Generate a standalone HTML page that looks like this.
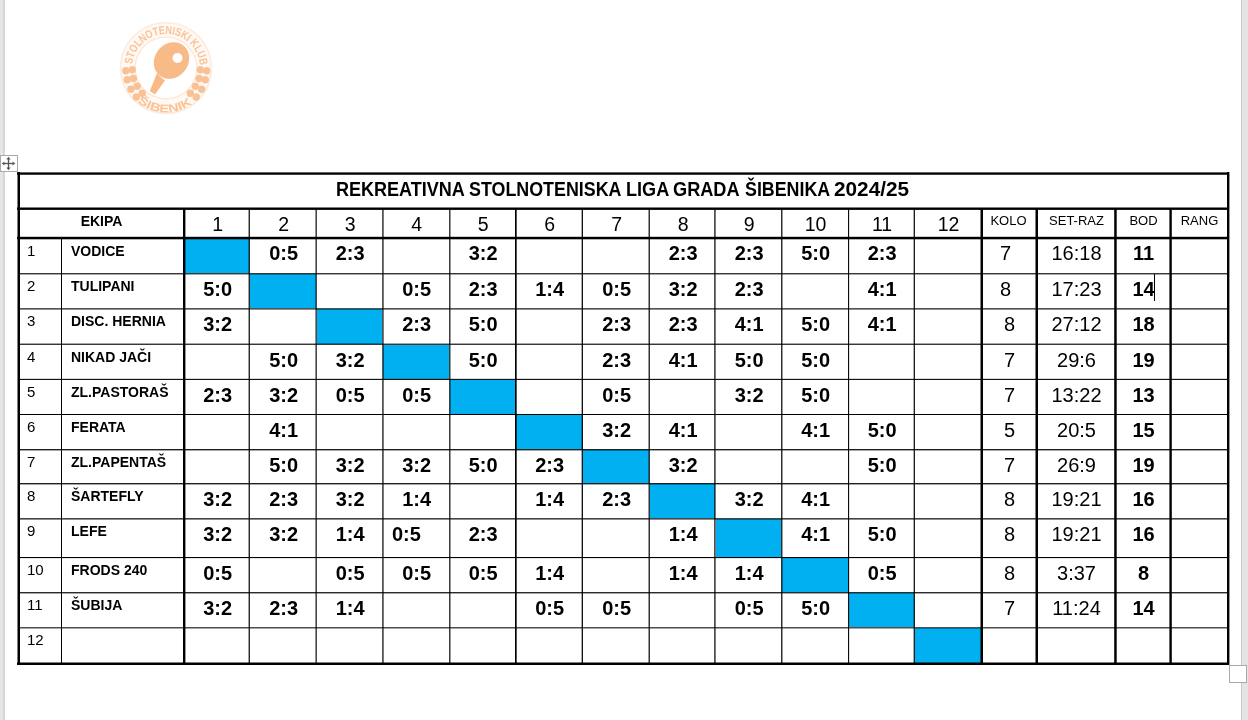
<!DOCTYPE html>
<html><head><meta charset="utf-8"><style>
html,body{margin:0;padding:0;}
body{width:1248px;height:720px;position:relative;overflow:hidden;background:#fff;font-family:"Liberation Sans",sans-serif;color:#000;}
#pg{position:absolute;left:0;top:0;width:1248px;height:720px;will-change:transform;}
#pg div,#pg span{position:absolute;}
#pg span{line-height:1;white-space:pre;}
</style></head><body><div id="pg">
<div style="left:0;top:0;width:3px;height:720px;background:#e6e6e6"></div>
<div style="left:3px;top:0;width:2px;height:720px;background:#d6d6d6"></div>
<div style="left:1241px;top:0;width:1px;height:720px;background:#c8c8c8"></div>
<div style="left:1242px;top:0;width:6px;height:720px;background:#e4e4e4"></div>
<svg style="position:absolute;left:0;top:0" width="300" height="140" viewBox="0 0 300 140">
<defs>
<path id="arcT" d="M136.56,85.00 A34,34 0 1,1 195.44,85.00"/>
<path id="arcB" d="M124.18,83.22 A44.5,44.5 0 0,0 207.82,83.22"/>
</defs>
<circle cx="166" cy="68" r="46.5" fill="#fff8f3"/>
<circle cx="166" cy="68" r="45.2" fill="none" stroke="#fdeadc" stroke-width="1.3"/>
<circle cx="166" cy="68" r="30.8" fill="#fff" stroke="#fde7d6" stroke-width="1.2"/>
<text font-family="Liberation Sans" font-size="11.5" font-weight="bold" fill="#f8c396"><textPath href="#arcT" startOffset="21.36" textLength="100.29" lengthAdjust="spacingAndGlyphs">STOLNOTENISKI KLUB</textPath></text>
<text font-family="Liberation Sans" font-size="11.5" font-weight="bold" fill="#f8c396"><textPath href="#arcB" startOffset="23.30" textLength="59.03" lengthAdjust="spacingAndGlyphs">ŠIBENIK</textPath></text>
<circle cx="125.8" cy="70.8" r="3.7" fill="#f9c196"/>
<circle cx="206.7" cy="70.8" r="3.7" fill="#f9c196"/>
<circle cx="132.2" cy="69.8" r="3.7" fill="#f9c196"/>
<circle cx="200.3" cy="69.8" r="3.7" fill="#f9c196"/>
<circle cx="127.2" cy="79.8" r="3.7" fill="#f9c196"/>
<circle cx="205.3" cy="79.8" r="3.7" fill="#f9c196"/>
<circle cx="133.4" cy="78.5" r="3.7" fill="#f9c196"/>
<circle cx="199.1" cy="78.5" r="3.7" fill="#f9c196"/>
<circle cx="130.9" cy="89.2" r="3.7" fill="#f9c196"/>
<circle cx="201.6" cy="89.2" r="3.7" fill="#f9c196"/>
<circle cx="137.2" cy="86.2" r="3.7" fill="#f9c196"/>
<circle cx="195.3" cy="86.2" r="3.7" fill="#f9c196"/>
<circle cx="136.3" cy="97" r="3.7" fill="#f9c196"/>
<circle cx="196.2" cy="97" r="3.7" fill="#f9c196"/>
<circle cx="142.2" cy="93.2" r="3.7" fill="#f9c196"/>
<circle cx="190.3" cy="93.2" r="3.7" fill="#f9c196"/>
<path d="M157,73 Q160,77 165,80.5 L155,94.6 L149.8,91 Z" fill="#f8bb88"/>
<ellipse cx="171.5" cy="60.5" rx="16.8" ry="19.2" transform="rotate(37 171.5 60.5)" fill="#f8bb88"/>
<circle cx="177.5" cy="58" r="5" fill="#fff"/>
</svg>
<div style="left:0;top:155px;width:16px;height:15px;border:1px solid #a8a8a8;background:#fff"></div>
<svg style="position:absolute;left:0;top:155px" width="17" height="17" viewBox="0 0 17 17">
<g stroke="#555" stroke-width="1.3" fill="#555">
<line x1="3" y1="8.5" x2="14" y2="8.5"/><line x1="8.5" y1="3" x2="8.5" y2="14"/>
</g>
<g fill="#555"><path d="M8.5 1.8 L10.6 4.4 L6.4 4.4Z"/><path d="M8.5 15.2 L10.6 12.6 L6.4 12.6Z"/><path d="M1.8 8.5 L4.4 6.4 L4.4 10.6Z"/><path d="M15.2 8.5 L12.6 6.4 L12.6 10.6Z"/></g>
</svg>
<div style="left:1229px;top:665px;width:16px;height:16px;border:1px solid #a8a8a8;background:#fff"></div>
<div style="left:185px;top:239px;width:64px;height:34px;background:#00B0F0;"></div>
<div style="left:250px;top:274px;width:66px;height:34px;background:#00B0F0;"></div>
<div style="left:317px;top:309px;width:65px;height:35px;background:#00B0F0;"></div>
<div style="left:383px;top:345px;width:66px;height:34px;background:#00B0F0;"></div>
<div style="left:450px;top:380px;width:65px;height:34px;background:#00B0F0;"></div>
<div style="left:516px;top:415px;width:66px;height:34px;background:#00B0F0;"></div>
<div style="left:583px;top:450px;width:66px;height:33px;background:#00B0F0;"></div>
<div style="left:650px;top:484px;width:65px;height:34px;background:#00B0F0;"></div>
<div style="left:716px;top:519px;width:65px;height:38px;background:#00B0F0;"></div>
<div style="left:782px;top:558px;width:66px;height:34px;background:#00B0F0;"></div>
<div style="left:849px;top:593px;width:65px;height:34px;background:#00B0F0;"></div>
<div style="left:915px;top:628px;width:66px;height:35px;background:#00B0F0;"></div>
<div style="left:18px;top:273px;width:1211px;height:1px;background:rgba(0,0,0,0.78);"></div>
<div style="left:18px;top:274px;width:1211px;height:1px;background:rgba(0,0,0,0.35);"></div>
<div style="left:18px;top:308px;width:1211px;height:1px;background:rgba(0,0,0,0.67);"></div>
<div style="left:18px;top:309px;width:1211px;height:1px;background:rgba(0,0,0,0.45);"></div>
<div style="left:18px;top:343px;width:1211px;height:1px;background:rgba(0,0,0,0.35);"></div>
<div style="left:18px;top:344px;width:1211px;height:1px;background:rgba(0,0,0,0.78);"></div>
<div style="left:18px;top:378px;width:1211px;height:1px;background:rgba(0,0,0,0.15);"></div>
<div style="left:18px;top:379px;width:1211px;height:1px;background:rgba(0,0,0,0.93);"></div>
<div style="left:18px;top:414px;width:1211px;height:1px;background:#000;"></div>
<div style="left:18px;top:449px;width:1211px;height:1px;background:rgba(0,0,0,0.87);"></div>
<div style="left:18px;top:450px;width:1211px;height:1px;background:rgba(0,0,0,0.35);"></div>
<div style="left:18px;top:483px;width:1211px;height:1px;background:rgba(0,0,0,0.87);"></div>
<div style="left:18px;top:484px;width:1211px;height:1px;background:rgba(0,0,0,0.35);"></div>
<div style="left:18px;top:518px;width:1211px;height:1px;background:rgba(0,0,0,0.73);"></div>
<div style="left:18px;top:519px;width:1211px;height:1px;background:rgba(0,0,0,0.45);"></div>
<div style="left:18px;top:557px;width:1211px;height:1px;background:#000;"></div>
<div style="left:18px;top:558px;width:1211px;height:1px;background:rgba(0,0,0,0.10);"></div>
<div style="left:18px;top:592px;width:1211px;height:1px;background:rgba(0,0,0,0.83);"></div>
<div style="left:18px;top:593px;width:1211px;height:1px;background:rgba(0,0,0,0.35);"></div>
<div style="left:18px;top:627px;width:1211px;height:1px;background:rgba(0,0,0,0.69);"></div>
<div style="left:18px;top:628px;width:1211px;height:1px;background:rgba(0,0,0,0.35);"></div>
<div style="left:248px;top:208px;width:1px;height:455px;background:rgba(0,0,0,0.37);"></div>
<div style="left:249px;top:208px;width:1px;height:455px;background:rgba(0,0,0,0.84);"></div>
<div style="left:315px;top:208px;width:1px;height:455px;background:rgba(0,0,0,0.44);"></div>
<div style="left:316px;top:208px;width:1px;height:455px;background:rgba(0,0,0,0.71);"></div>
<div style="left:382px;top:208px;width:1px;height:455px;background:rgba(0,0,0,0.67);"></div>
<div style="left:383px;top:208px;width:1px;height:455px;background:rgba(0,0,0,0.53);"></div>
<div style="left:449px;top:208px;width:1px;height:455px;background:rgba(0,0,0,0.77);"></div>
<div style="left:450px;top:208px;width:1px;height:455px;background:rgba(0,0,0,0.40);"></div>
<div style="left:515px;top:208px;width:1px;height:455px;background:#000;"></div>
<div style="left:516px;top:208px;width:1px;height:455px;background:rgba(0,0,0,0.67);"></div>
<div style="left:581px;top:208px;width:1px;height:455px;background:rgba(0,0,0,0.33);"></div>
<div style="left:582px;top:208px;width:1px;height:455px;background:rgba(0,0,0,0.93);"></div>
<div style="left:648px;top:208px;width:1px;height:455px;background:rgba(0,0,0,0.40);"></div>
<div style="left:649px;top:208px;width:1px;height:455px;background:rgba(0,0,0,0.80);"></div>
<div style="left:714px;top:208px;width:1px;height:455px;background:rgba(0,0,0,0.69);"></div>
<div style="left:715px;top:208px;width:1px;height:455px;background:rgba(0,0,0,0.53);"></div>
<div style="left:781px;top:208px;width:1px;height:455px;background:rgba(0,0,0,0.82);"></div>
<div style="left:782px;top:208px;width:1px;height:455px;background:rgba(0,0,0,0.40);"></div>
<div style="left:848px;top:208px;width:1px;height:455px;background:rgba(0,0,0,0.95);"></div>
<div style="left:849px;top:208px;width:1px;height:455px;background:rgba(0,0,0,0.13);"></div>
<div style="left:913px;top:208px;width:1px;height:455px;background:rgba(0,0,0,0.33);"></div>
<div style="left:914px;top:208px;width:1px;height:455px;background:rgba(0,0,0,0.88);"></div>
<div style="left:61px;top:237px;width:1px;height:426px;background:#000;"></div>
<div style="left:17px;top:172px;width:1px;height:493px;background:rgba(0,0,0,0.50);"></div>
<div style="left:18px;top:172px;width:1px;height:493px;background:#000;"></div>
<div style="left:19px;top:172px;width:1px;height:493px;background:#000;"></div>
<div style="left:183px;top:208px;width:1px;height:455px;background:#000;"></div>
<div style="left:184px;top:208px;width:1px;height:455px;background:#000;"></div>
<div style="left:185px;top:208px;width:1px;height:455px;background:rgba(0,0,0,0.40);"></div>
<div style="left:980px;top:208px;width:1px;height:455px;background:rgba(0,0,0,0.50);"></div>
<div style="left:981px;top:208px;width:1px;height:455px;background:#000;"></div>
<div style="left:982px;top:208px;width:1px;height:455px;background:#000;"></div>
<div style="left:1035px;top:208px;width:1px;height:455px;background:rgba(0,0,0,0.50);"></div>
<div style="left:1036px;top:208px;width:1px;height:455px;background:#000;"></div>
<div style="left:1037px;top:208px;width:1px;height:455px;background:#000;"></div>
<div style="left:1114px;top:208px;width:1px;height:455px;background:rgba(0,0,0,0.80);"></div>
<div style="left:1115px;top:208px;width:1px;height:455px;background:#000;"></div>
<div style="left:1116px;top:208px;width:1px;height:455px;background:rgba(0,0,0,0.70);"></div>
<div style="left:1169px;top:208px;width:1px;height:455px;background:rgba(0,0,0,0.60);"></div>
<div style="left:1170px;top:208px;width:1px;height:455px;background:#000;"></div>
<div style="left:1171px;top:208px;width:1px;height:455px;background:rgba(0,0,0,0.80);"></div>
<div style="left:1227px;top:172px;width:1px;height:493px;background:#000;"></div>
<div style="left:1228px;top:172px;width:1px;height:493px;background:#000;"></div>
<div style="left:1229px;top:172px;width:1px;height:493px;background:rgba(0,0,0,0.40);"></div>
<div style="left:17px;top:172px;width:1212px;height:1px;background:rgba(0,0,0,0.60);"></div>
<div style="left:17px;top:173px;width:1212px;height:1px;background:#000;"></div>
<div style="left:17px;top:174px;width:1212px;height:1px;background:rgba(0,0,0,0.75);"></div>
<div style="left:17px;top:207px;width:1212px;height:1px;background:rgba(0,0,0,0.50);"></div>
<div style="left:17px;top:208px;width:1212px;height:1px;background:#000;"></div>
<div style="left:17px;top:209px;width:1212px;height:1px;background:rgba(0,0,0,0.90);"></div>
<div style="left:17px;top:236px;width:1212px;height:1px;background:rgba(0,0,0,0.20);"></div>
<div style="left:17px;top:237px;width:1212px;height:1px;background:#000;"></div>
<div style="left:17px;top:238px;width:1212px;height:1px;background:#000;"></div>
<div style="left:17px;top:239px;width:1212px;height:1px;background:rgba(0,0,0,0.30);"></div>
<div style="left:17px;top:662px;width:1212px;height:1px;background:rgba(0,0,0,0.50);"></div>
<div style="left:17px;top:663px;width:1212px;height:1px;background:#000;"></div>
<div style="left:17px;top:664px;width:1212px;height:1px;background:#000;"></div>
<div style="left:18px;top:172px;width:1px;height:493px;background:#000;"></div>
<div style="left:19px;top:172px;width:1px;height:493px;background:#000;"></div>
<div style="left:183px;top:208px;width:1px;height:455px;background:#000;"></div>
<div style="left:184px;top:208px;width:1px;height:455px;background:#000;"></div>
<div style="left:981px;top:208px;width:1px;height:455px;background:#000;"></div>
<div style="left:982px;top:208px;width:1px;height:455px;background:#000;"></div>
<div style="left:1036px;top:208px;width:1px;height:455px;background:#000;"></div>
<div style="left:1037px;top:208px;width:1px;height:455px;background:#000;"></div>
<div style="left:1115px;top:208px;width:1px;height:455px;background:#000;"></div>
<div style="left:1170px;top:208px;width:1px;height:455px;background:#000;"></div>
<div style="left:1227px;top:172px;width:1px;height:493px;background:#000;"></div>
<div style="left:1228px;top:172px;width:1px;height:493px;background:#000;"></div>
<span style="left:335.8px;top:179.06px;font-size:20px;font-weight:bold;transform:scaleX(0.9014);transform-origin:0 0">REKREATIVNA</span>
<span style="left:468.81px;top:179.06px;font-size:20px;font-weight:bold;transform:scaleX(0.8929);transform-origin:0 0">STOLNOTENISKA</span>
<span style="left:625.7px;top:179.06px;font-size:20px;font-weight:bold;transform:scaleX(0.9043);transform-origin:0 0">LIGA</span>
<span style="left:673.29px;top:179.06px;font-size:20px;font-weight:bold;transform:scaleX(0.9083);transform-origin:0 0">GRADA</span>
<span style="left:744.71px;top:179.06px;font-size:20px;font-weight:bold;transform:scaleX(0.8915);transform-origin:0 0">ŠIBENIKA</span>
<span style="left:833.96px;top:179.06px;font-size:20px;font-weight:bold;transform:scaleX(1.0380);transform-origin:0 0">2024/25</span>
<span style="left:20px;width:163px;text-align:center;top:214.34px;font-size:14px;font-weight:bold;">EKIPA</span>
<span style="left:185.6px;width:64.0px;text-align:center;top:215.48px;font-size:19.5px;font-weight:normal;">1</span>
<span style="left:250.6px;width:66.00000000000003px;text-align:center;top:215.48px;font-size:19.5px;font-weight:normal;">2</span>
<span style="left:317.6px;width:65.0px;text-align:center;top:215.48px;font-size:19.5px;font-weight:normal;">3</span>
<span style="left:383.6px;width:66.0px;text-align:center;top:215.48px;font-size:19.5px;font-weight:normal;">4</span>
<span style="left:450.6px;width:65.0px;text-align:center;top:215.48px;font-size:19.5px;font-weight:normal;">5</span>
<span style="left:516.6px;width:66.0px;text-align:center;top:215.48px;font-size:19.5px;font-weight:normal;">6</span>
<span style="left:583.6px;width:66.0px;text-align:center;top:215.48px;font-size:19.5px;font-weight:normal;">7</span>
<span style="left:650.6px;width:65.0px;text-align:center;top:215.48px;font-size:19.5px;font-weight:normal;">8</span>
<span style="left:716.6px;width:65.0px;text-align:center;top:215.48px;font-size:19.5px;font-weight:normal;">9</span>
<span style="left:782.6px;width:66.0px;text-align:center;top:215.48px;font-size:19.5px;font-weight:normal;">10</span>
<span style="left:849.6px;width:65.0px;text-align:center;top:215.48px;font-size:19.5px;font-weight:normal;">11</span>
<span style="left:915.6px;width:66.0px;text-align:center;top:215.48px;font-size:19.5px;font-weight:normal;">12</span>
<span style="left:982px;width:53px;text-align:center;top:213.99px;font-size:13px;font-weight:normal;">KOLO</span>
<span style="left:1038px;width:77px;text-align:center;top:213.99px;font-size:13px;font-weight:normal;">SET-RAZ</span>
<span style="left:1117px;width:53px;text-align:center;top:213.99px;font-size:13px;font-weight:normal;">BOD</span>
<span style="left:1172px;width:55px;text-align:center;top:213.99px;font-size:13px;font-weight:normal;">RANG</span>
<span style="left:27px;top:242.79px;font-size:15px;font-weight:normal;">1</span>
<span style="left:71px;top:243.64px;font-size:14px;font-weight:bold;">VODICE</span>
<span style="left:250.6px;width:66.00000000000003px;text-align:center;top:243.06px;font-size:20px;font-weight:bold;">0:5</span>
<span style="left:317.6px;width:65.0px;text-align:center;top:243.06px;font-size:20px;font-weight:bold;">2:3</span>
<span style="left:450.6px;width:65.0px;text-align:center;top:243.06px;font-size:20px;font-weight:bold;">3:2</span>
<span style="left:650.6px;width:65.0px;text-align:center;top:243.06px;font-size:20px;font-weight:bold;">2:3</span>
<span style="left:716.6px;width:65.0px;text-align:center;top:243.06px;font-size:20px;font-weight:bold;">2:3</span>
<span style="left:782.6px;width:66.0px;text-align:center;top:243.06px;font-size:20px;font-weight:bold;">5:0</span>
<span style="left:849.6px;width:65.0px;text-align:center;top:243.06px;font-size:20px;font-weight:bold;">2:3</span>
<span style="left:979px;width:53px;text-align:center;top:243.06px;font-size:20px;font-weight:normal;">7</span>
<span style="left:1038px;width:77px;text-align:center;top:243.06px;font-size:20px;font-weight:normal;">16:18</span>
<span style="left:1117px;width:53px;text-align:center;top:243.06px;font-size:20px;font-weight:bold;">11</span>
<span style="left:27px;top:277.80px;font-size:15px;font-weight:normal;">2</span>
<span style="left:71px;top:278.64px;font-size:14px;font-weight:bold;">TULIPANI</span>
<span style="left:185.6px;width:64.0px;text-align:center;top:278.76px;font-size:20px;font-weight:bold;">5:0</span>
<span style="left:383.6px;width:66.0px;text-align:center;top:278.76px;font-size:20px;font-weight:bold;">0:5</span>
<span style="left:450.6px;width:65.0px;text-align:center;top:278.76px;font-size:20px;font-weight:bold;">2:3</span>
<span style="left:516.6px;width:66.0px;text-align:center;top:278.76px;font-size:20px;font-weight:bold;">1:4</span>
<span style="left:583.6px;width:66.0px;text-align:center;top:278.76px;font-size:20px;font-weight:bold;">0:5</span>
<span style="left:650.6px;width:65.0px;text-align:center;top:278.76px;font-size:20px;font-weight:bold;">3:2</span>
<span style="left:716.6px;width:65.0px;text-align:center;top:278.76px;font-size:20px;font-weight:bold;">2:3</span>
<span style="left:849.6px;width:65.0px;text-align:center;top:278.76px;font-size:20px;font-weight:bold;">4:1</span>
<span style="left:979px;width:53px;text-align:center;top:278.76px;font-size:20px;font-weight:normal;">8</span>
<span style="left:1038px;width:77px;text-align:center;top:278.76px;font-size:20px;font-weight:normal;">17:23</span>
<span style="left:1117px;width:53px;text-align:center;top:278.76px;font-size:20px;font-weight:bold;">14</span>
<span style="left:27px;top:312.80px;font-size:15px;font-weight:normal;">3</span>
<span style="left:71px;top:313.64px;font-size:14px;font-weight:bold;">DISC. HERNIA</span>
<span style="left:185.6px;width:64.0px;text-align:center;top:313.76px;font-size:20px;font-weight:bold;">3:2</span>
<span style="left:383.6px;width:66.0px;text-align:center;top:313.76px;font-size:20px;font-weight:bold;">2:3</span>
<span style="left:450.6px;width:65.0px;text-align:center;top:313.76px;font-size:20px;font-weight:bold;">5:0</span>
<span style="left:583.6px;width:66.0px;text-align:center;top:313.76px;font-size:20px;font-weight:bold;">2:3</span>
<span style="left:650.6px;width:65.0px;text-align:center;top:313.76px;font-size:20px;font-weight:bold;">2:3</span>
<span style="left:716.6px;width:65.0px;text-align:center;top:313.76px;font-size:20px;font-weight:bold;">4:1</span>
<span style="left:782.6px;width:66.0px;text-align:center;top:313.76px;font-size:20px;font-weight:bold;">5:0</span>
<span style="left:849.6px;width:65.0px;text-align:center;top:313.76px;font-size:20px;font-weight:bold;">4:1</span>
<span style="left:983px;width:53px;text-align:center;top:313.76px;font-size:20px;font-weight:normal;">8</span>
<span style="left:1038px;width:77px;text-align:center;top:313.76px;font-size:20px;font-weight:normal;">27:12</span>
<span style="left:1117px;width:53px;text-align:center;top:313.76px;font-size:20px;font-weight:bold;">18</span>
<span style="left:27px;top:348.80px;font-size:15px;font-weight:normal;">4</span>
<span style="left:71px;top:349.64px;font-size:14px;font-weight:bold;">NIKAD JAČI</span>
<span style="left:250.6px;width:66.00000000000003px;text-align:center;top:349.76px;font-size:20px;font-weight:bold;">5:0</span>
<span style="left:317.6px;width:65.0px;text-align:center;top:349.76px;font-size:20px;font-weight:bold;">3:2</span>
<span style="left:450.6px;width:65.0px;text-align:center;top:349.76px;font-size:20px;font-weight:bold;">5:0</span>
<span style="left:583.6px;width:66.0px;text-align:center;top:349.76px;font-size:20px;font-weight:bold;">2:3</span>
<span style="left:650.6px;width:65.0px;text-align:center;top:349.76px;font-size:20px;font-weight:bold;">4:1</span>
<span style="left:716.6px;width:65.0px;text-align:center;top:349.76px;font-size:20px;font-weight:bold;">5:0</span>
<span style="left:782.6px;width:66.0px;text-align:center;top:349.76px;font-size:20px;font-weight:bold;">5:0</span>
<span style="left:983px;width:53px;text-align:center;top:349.76px;font-size:20px;font-weight:normal;">7</span>
<span style="left:1038px;width:77px;text-align:center;top:349.76px;font-size:20px;font-weight:normal;">29:6</span>
<span style="left:1117px;width:53px;text-align:center;top:349.76px;font-size:20px;font-weight:bold;">19</span>
<span style="left:27px;top:383.80px;font-size:15px;font-weight:normal;">5</span>
<span style="left:71px;top:384.64px;font-size:14px;font-weight:bold;">ZL.PASTORAŠ</span>
<span style="left:185.6px;width:64.0px;text-align:center;top:384.76px;font-size:20px;font-weight:bold;">2:3</span>
<span style="left:250.6px;width:66.00000000000003px;text-align:center;top:384.76px;font-size:20px;font-weight:bold;">3:2</span>
<span style="left:317.6px;width:65.0px;text-align:center;top:384.76px;font-size:20px;font-weight:bold;">0:5</span>
<span style="left:383.6px;width:66.0px;text-align:center;top:384.76px;font-size:20px;font-weight:bold;">0:5</span>
<span style="left:583.6px;width:66.0px;text-align:center;top:384.76px;font-size:20px;font-weight:bold;">0:5</span>
<span style="left:716.6px;width:65.0px;text-align:center;top:384.76px;font-size:20px;font-weight:bold;">3:2</span>
<span style="left:782.6px;width:66.0px;text-align:center;top:384.76px;font-size:20px;font-weight:bold;">5:0</span>
<span style="left:983px;width:53px;text-align:center;top:384.76px;font-size:20px;font-weight:normal;">7</span>
<span style="left:1038px;width:77px;text-align:center;top:384.76px;font-size:20px;font-weight:normal;">13:22</span>
<span style="left:1117px;width:53px;text-align:center;top:384.76px;font-size:20px;font-weight:bold;">13</span>
<span style="left:27px;top:418.80px;font-size:15px;font-weight:normal;">6</span>
<span style="left:71px;top:419.64px;font-size:14px;font-weight:bold;">FERATA</span>
<span style="left:250.6px;width:66.00000000000003px;text-align:center;top:419.76px;font-size:20px;font-weight:bold;">4:1</span>
<span style="left:583.6px;width:66.0px;text-align:center;top:419.76px;font-size:20px;font-weight:bold;">3:2</span>
<span style="left:650.6px;width:65.0px;text-align:center;top:419.76px;font-size:20px;font-weight:bold;">4:1</span>
<span style="left:782.6px;width:66.0px;text-align:center;top:419.76px;font-size:20px;font-weight:bold;">4:1</span>
<span style="left:849.6px;width:65.0px;text-align:center;top:419.76px;font-size:20px;font-weight:bold;">5:0</span>
<span style="left:983px;width:53px;text-align:center;top:419.76px;font-size:20px;font-weight:normal;">5</span>
<span style="left:1038px;width:77px;text-align:center;top:419.76px;font-size:20px;font-weight:normal;">20:5</span>
<span style="left:1117px;width:53px;text-align:center;top:419.76px;font-size:20px;font-weight:bold;">15</span>
<span style="left:27px;top:453.80px;font-size:15px;font-weight:normal;">7</span>
<span style="left:71px;top:454.64px;font-size:14px;font-weight:bold;">ZL.PAPENTAŠ</span>
<span style="left:250.6px;width:66.00000000000003px;text-align:center;top:454.76px;font-size:20px;font-weight:bold;">5:0</span>
<span style="left:317.6px;width:65.0px;text-align:center;top:454.76px;font-size:20px;font-weight:bold;">3:2</span>
<span style="left:383.6px;width:66.0px;text-align:center;top:454.76px;font-size:20px;font-weight:bold;">3:2</span>
<span style="left:450.6px;width:65.0px;text-align:center;top:454.76px;font-size:20px;font-weight:bold;">5:0</span>
<span style="left:516.6px;width:66.0px;text-align:center;top:454.76px;font-size:20px;font-weight:bold;">2:3</span>
<span style="left:650.6px;width:65.0px;text-align:center;top:454.76px;font-size:20px;font-weight:bold;">3:2</span>
<span style="left:849.6px;width:65.0px;text-align:center;top:454.76px;font-size:20px;font-weight:bold;">5:0</span>
<span style="left:983px;width:53px;text-align:center;top:454.76px;font-size:20px;font-weight:normal;">7</span>
<span style="left:1038px;width:77px;text-align:center;top:454.76px;font-size:20px;font-weight:normal;">26:9</span>
<span style="left:1117px;width:53px;text-align:center;top:454.76px;font-size:20px;font-weight:bold;">19</span>
<span style="left:27px;top:487.80px;font-size:15px;font-weight:normal;">8</span>
<span style="left:71px;top:488.64px;font-size:14px;font-weight:bold;">ŠARTEFLY</span>
<span style="left:185.6px;width:64.0px;text-align:center;top:488.76px;font-size:20px;font-weight:bold;">3:2</span>
<span style="left:250.6px;width:66.00000000000003px;text-align:center;top:488.76px;font-size:20px;font-weight:bold;">2:3</span>
<span style="left:317.6px;width:65.0px;text-align:center;top:488.76px;font-size:20px;font-weight:bold;">3:2</span>
<span style="left:383.6px;width:66.0px;text-align:center;top:488.76px;font-size:20px;font-weight:bold;">1:4</span>
<span style="left:516.6px;width:66.0px;text-align:center;top:488.76px;font-size:20px;font-weight:bold;">1:4</span>
<span style="left:583.6px;width:66.0px;text-align:center;top:488.76px;font-size:20px;font-weight:bold;">2:3</span>
<span style="left:716.6px;width:65.0px;text-align:center;top:488.76px;font-size:20px;font-weight:bold;">3:2</span>
<span style="left:782.6px;width:66.0px;text-align:center;top:488.76px;font-size:20px;font-weight:bold;">4:1</span>
<span style="left:983px;width:53px;text-align:center;top:488.76px;font-size:20px;font-weight:normal;">8</span>
<span style="left:1038px;width:77px;text-align:center;top:488.76px;font-size:20px;font-weight:normal;">19:21</span>
<span style="left:1117px;width:53px;text-align:center;top:488.76px;font-size:20px;font-weight:bold;">16</span>
<span style="left:27px;top:522.79px;font-size:15px;font-weight:normal;">9</span>
<span style="left:71px;top:523.64px;font-size:14px;font-weight:bold;">LEFE</span>
<span style="left:185.6px;width:64.0px;text-align:center;top:523.76px;font-size:20px;font-weight:bold;">3:2</span>
<span style="left:250.6px;width:66.00000000000003px;text-align:center;top:523.76px;font-size:20px;font-weight:bold;">3:2</span>
<span style="left:317.6px;width:65.0px;text-align:center;top:523.76px;font-size:20px;font-weight:bold;">1:4</span>
<span style="left:392px;top:523.76px;font-size:20px;font-weight:bold;">0:5</span>
<span style="left:450.6px;width:65.0px;text-align:center;top:523.76px;font-size:20px;font-weight:bold;">2:3</span>
<span style="left:650.6px;width:65.0px;text-align:center;top:523.76px;font-size:20px;font-weight:bold;">1:4</span>
<span style="left:782.6px;width:66.0px;text-align:center;top:523.76px;font-size:20px;font-weight:bold;">4:1</span>
<span style="left:849.6px;width:65.0px;text-align:center;top:523.76px;font-size:20px;font-weight:bold;">5:0</span>
<span style="left:983px;width:53px;text-align:center;top:523.76px;font-size:20px;font-weight:normal;">8</span>
<span style="left:1038px;width:77px;text-align:center;top:523.76px;font-size:20px;font-weight:normal;">19:21</span>
<span style="left:1117px;width:53px;text-align:center;top:523.76px;font-size:20px;font-weight:bold;">16</span>
<span style="left:27px;top:561.79px;font-size:15px;font-weight:normal;">10</span>
<span style="left:71px;top:562.64px;font-size:14px;font-weight:bold;">FRODS 240</span>
<span style="left:185.6px;width:64.0px;text-align:center;top:562.76px;font-size:20px;font-weight:bold;">0:5</span>
<span style="left:317.6px;width:65.0px;text-align:center;top:562.76px;font-size:20px;font-weight:bold;">0:5</span>
<span style="left:383.6px;width:66.0px;text-align:center;top:562.76px;font-size:20px;font-weight:bold;">0:5</span>
<span style="left:450.6px;width:65.0px;text-align:center;top:562.76px;font-size:20px;font-weight:bold;">0:5</span>
<span style="left:516.6px;width:66.0px;text-align:center;top:562.76px;font-size:20px;font-weight:bold;">1:4</span>
<span style="left:650.6px;width:65.0px;text-align:center;top:562.76px;font-size:20px;font-weight:bold;">1:4</span>
<span style="left:716.6px;width:65.0px;text-align:center;top:562.76px;font-size:20px;font-weight:bold;">1:4</span>
<span style="left:849.6px;width:65.0px;text-align:center;top:562.76px;font-size:20px;font-weight:bold;">0:5</span>
<span style="left:983px;width:53px;text-align:center;top:562.76px;font-size:20px;font-weight:normal;">8</span>
<span style="left:1038px;width:77px;text-align:center;top:562.76px;font-size:20px;font-weight:normal;">3:37</span>
<span style="left:1117px;width:53px;text-align:center;top:562.76px;font-size:20px;font-weight:bold;">8</span>
<span style="left:27px;top:596.79px;font-size:15px;font-weight:normal;">11</span>
<span style="left:71px;top:597.64px;font-size:14px;font-weight:bold;">ŠUBIJA</span>
<span style="left:185.6px;width:64.0px;text-align:center;top:597.76px;font-size:20px;font-weight:bold;">3:2</span>
<span style="left:250.6px;width:66.00000000000003px;text-align:center;top:597.76px;font-size:20px;font-weight:bold;">2:3</span>
<span style="left:317.6px;width:65.0px;text-align:center;top:597.76px;font-size:20px;font-weight:bold;">1:4</span>
<span style="left:516.6px;width:66.0px;text-align:center;top:597.76px;font-size:20px;font-weight:bold;">0:5</span>
<span style="left:583.6px;width:66.0px;text-align:center;top:597.76px;font-size:20px;font-weight:bold;">0:5</span>
<span style="left:716.6px;width:65.0px;text-align:center;top:597.76px;font-size:20px;font-weight:bold;">0:5</span>
<span style="left:782.6px;width:66.0px;text-align:center;top:597.76px;font-size:20px;font-weight:bold;">5:0</span>
<span style="left:983px;width:53px;text-align:center;top:597.76px;font-size:20px;font-weight:normal;">7</span>
<span style="left:1038px;width:77px;text-align:center;top:597.76px;font-size:20px;font-weight:normal;">11:24</span>
<span style="left:1117px;width:53px;text-align:center;top:597.76px;font-size:20px;font-weight:bold;">14</span>
<span style="left:27px;top:631.79px;font-size:15px;font-weight:normal;">12</span>
<div style="left:1154px;top:274px;width:1px;height:27px;background:#000;"></div>
</div></body></html>
